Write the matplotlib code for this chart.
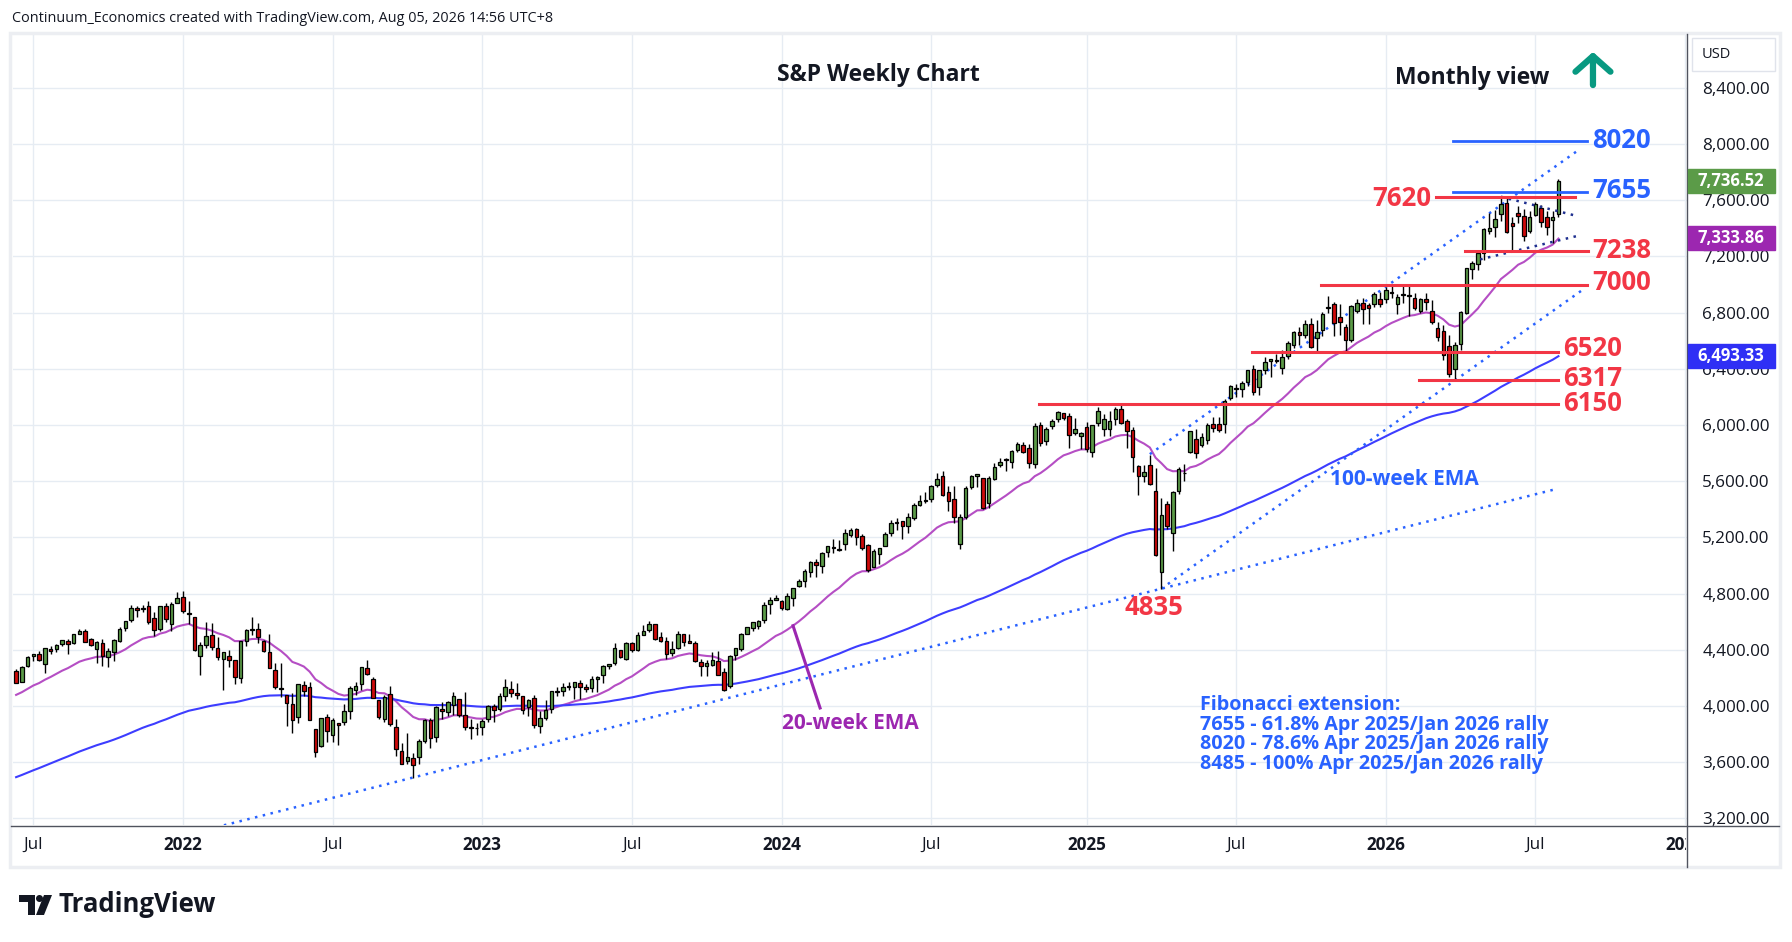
import numpy as np
import pandas as pd
import matplotlib
matplotlib.use('Agg')
import matplotlib.pyplot as plt
from matplotlib.patches import Rectangle, Polygon, Ellipse
from matplotlib.transforms import blended_transform_factory, Bbox, TransformedBbox

plt.rcParams['font.family'] = ['Open Sans', 'DejaVu Sans']

# ================================================== DATA (weekly S&P 500 candles)
first_week = '2021-06-14'

open_px = [
    # 2021
    4248, 4173, 4285, 4356, 4372, 4297, 4409, 4406, 4438, 4462, 4450, 4514, 4536, 4474, 4403,
    4450, 4349, 4385, 4464, 4553, 4610, 4701, 4689, 4712, 4628, 4548, 4710, 4587, 4733,
    # 2022
    4779, 4655, 4632, 4356, 4431, 4505, 4412, 4332, 4354, 4327, 4202, 4462, 4541, 4547, 4462,
    4385, 4255, 4131, 4081, 4013, 3920, 4152, 4134, 3838, 3715, 3920, 3792, 3880, 3884, 3966,
    4113, 4155, 4270, 4195, 4041, 3910, 4084, 3849, 3682, 3610, 3630, 3638, 3753, 3901, 3777,
    3977, 3956, 4005, 4052, 3939, 3854, 3843,
    # 2023
    3853, 3911, 3999, 3979, 4069, 4119, 4096, 4069, 3992, 4055, 3855, 3917, 3982, 4102, 4110,
    4140, 4132, 4167, 4136, 4126, 4190, 4224, 4282, 4308, 4396, 4337, 4450, 4399, 4505, 4543,
    4584, 4492, 4464, 4380, 4412, 4510, 4462, 4445, 4310, 4284, 4289, 4320, 4239, 4140, 4364,
    4406, 4514, 4554, 4569, 4610, 4725, 4758,
    # 2024
    4745, 4690, 4772, 4853, 4892, 4957, 5026, 4998, 5093, 5130, 5111, 5154, 5220, 5257, 5212,
    5149, 4988, 5084, 5142, 5233, 5306, 5316, 5283, 5341, 5432, 5460, 5471, 5572, 5638, 5525,
    5476, 5151, 5345, 5557, 5638, 5624, 5442, 5615, 5712, 5757, 5737, 5825, 5857, 5833, 5725,
    6003, 5883, 5992, 6041, 6083, 6063, 5940, 5920,
    # 2025
    5983, 5805, 6014, 5969, 5969, 6046, 6117, 6026, 5968, 5705, 5635, 5718, 5527, 4953, 5441,
    5232, 5529, 5655, 5807, 5902, 5855, 5896, 6004, 6004, 6004, 6193, 6259, 6255, 6304, 6398,
    6272, 6389, 6453, 6457, 6409, 6489, 6570, 6662, 6640, 6721, 6620, 6674, 6830, 6860, 6770,
    6700, 6608, 6812, 6870, 6851, 6861, 6895,
    # 2026
    6895, 6945, 6860, 6922, 6918, 6906, 6811, 6895, 6814, 6688, 6669, 6565, 6400, 6577, 6800,
    7108, 7146, 7222, 7381, 7407, 7502, 7578, 7436, 7507, 7490, 7383, 7495, 7542, 7483, 7459,
    7500,
]

high_px = [
    # 2021
    4262, 4286, 4356, 4372, 4393, 4415, 4429, 4440, 4469, 4480, 4513, 4545, 4549, 4486, 4465,
    4476, 4412, 4475, 4559, 4608, 4718, 4715, 4718, 4744, 4672, 4713, 4731, 4740, 4808,
    # 2022
    4819, 4749, 4632, 4453, 4596, 4590, 4490, 4362, 4401, 4327, 4465, 4546, 4637, 4593, 4471,
    4513, 4308, 4308, 4081, 4091, 4158, 4178, 4169, 3838, 3913, 3946, 3918, 3880, 4013, 4140,
    4168, 4280, 4325, 4203, 4041, 4077, 4140, 3907, 3736, 3806, 3665, 3762, 3906, 3912, 4001,
    4029, 4034, 4100, 4052, 4101, 3906, 3876,
    # 2023
    3906, 4004, 4016, 4094, 4195, 4176, 4166, 4069, 4048, 4079, 3964, 4040, 4110, 4133, 4163,
    4169, 4170, 4187, 4155, 4212, 4212, 4290, 4299, 4449, 4400, 4458, 4456, 4528, 4578, 4607,
    4584, 4528, 4490, 4460, 4532, 4514, 4511, 4466, 4338, 4324, 4385, 4393, 4267, 4366, 4415,
    4521, 4560, 4595, 4609, 4739, 4779, 4793,
    # 2024
    4755, 4803, 4842, 4903, 4975, 5030, 5049, 5098, 5140, 5190, 5180, 5262, 5264, 5264, 5222,
    5150, 5114, 5128, 5239, 5326, 5341, 5316, 5375, 5447, 5505, 5524, 5570, 5655, 5670, 5566,
    5566, 5364, 5564, 5641, 5651, 5626, 5636, 5733, 5767, 5765, 5822, 5879, 5878, 5863, 6013,
    6018, 5986, 6044, 6099, 6085, 6085, 6050, 5950,
    # 2025
    6022, 5998, 6128, 6081, 6101, 6128, 6147, 6043, 5986, 5715, 5715, 5787, 5691, 5481, 5459,
    5528, 5700, 5720, 5959, 5969, 5944, 6017, 6060, 6059, 6187, 6284, 6290, 6316, 6395, 6428,
    6395, 6481, 6470, 6508, 6532, 6600, 6672, 6699, 6750, 6764, 6744, 6807, 6920, 6875, 6858,
    6720, 6853, 6895, 6901, 6870, 6945, 6945,
    # 2026
    6985, 6986, 6935, 6998, 6998, 6940, 6905, 6940, 6890, 6730, 6712, 6640, 6590, 6815, 7120,
    7165, 7230, 7400, 7507, 7530, 7625, 7614, 7483, 7560, 7540, 7520, 7590, 7565, 7520, 7525,
    7749,
]

low_px = [
    # 2021
    4165, 4173, 4278, 4321, 4321, 4233, 4368, 4385, 4424, 4367, 4441, 4513, 4457, 4427, 4305,
    4288, 4279, 4323, 4459, 4537, 4595, 4630, 4672, 4585, 4495, 4532, 4600, 4531, 4733,
    # 2022
    4662, 4582, 4395, 4223, 4415, 4401, 4327, 4115, 4279, 4157, 4161, 4425, 4506, 4450, 4381,
    4267, 4124, 4062, 3859, 3811, 3876, 4074, 3900, 3637, 3705, 3741, 3742, 3722, 3864, 3910,
    4080, 4114, 4218, 4057, 3907, 3886, 3855, 3647, 3584, 3585, 3491, 3590, 3738, 3699, 3744,
    3907, 3930, 3938, 3919, 3828, 3764, 3796,
    # 2023
    3794, 3886, 3885, 3966, 4037, 4061, 4047, 3943, 3928, 3846, 3808, 3901, 3951, 4069, 4072,
    4114, 4049, 4048, 4099, 4103, 4103, 4166, 4260, 4292, 4341, 4328, 4385, 4389, 4505, 4528,
    4472, 4458, 4335, 4356, 4407, 4430, 4448, 4313, 4217, 4217, 4284, 4223, 4104, 4126, 4330,
    4393, 4511, 4537, 4546, 4594, 4655, 4751,
    # 2024
    4682, 4683, 4715, 4845, 4845, 4918, 4920, 4946, 5058, 5086, 5104, 5112, 5204, 5146, 5107,
    4953, 4987, 5011, 5142, 5211, 5256, 5191, 5234, 5327, 5420, 5447, 5452, 5558, 5497, 5390,
    5306, 5120, 5330, 5546, 5560, 5402, 5406, 5608, 5703, 5675, 5696, 5805, 5802, 5696, 5697,
    5854, 5857, 5972, 6024, 6036, 5833, 5930, 5830,
    # 2025
    5809, 5773, 5996, 5924, 5923, 6003, 6009, 5837, 5666, 5505, 5597, 5572, 5069, 4835, 5263,
    5101, 5507, 5598, 5800, 5767, 5843, 5862, 5952, 5952, 5943, 6179, 6202, 6201, 6280, 6212,
    6212, 6360, 6343, 6441, 6360, 6470, 6551, 6569, 6621, 6550, 6525, 6633, 6800, 6631, 6640,
    6521, 6590, 6800, 6719, 6720, 6840, 6840,
    # 2026
    6870, 6905, 6790, 6866, 6776, 6820, 6795, 6818, 6719, 6600, 6463, 6340, 6317, 6534, 6790,
    7040, 7100, 7175, 7360, 7340, 7450, 7370, 7238, 7440, 7310, 7370, 7490, 7410, 7350, 7298,
    7480,
]

close_px = [
    # 2021
    4166, 4281, 4352, 4370, 4327, 4412, 4395, 4437, 4468, 4442, 4509, 4535, 4458, 4432, 4455,
    4357, 4391, 4471, 4545, 4605, 4697, 4683, 4698, 4595, 4538, 4712, 4621, 4725, 4766,
    # 2022
    4677, 4663, 4398, 4432, 4501, 4419, 4349, 4385, 4329, 4204, 4463, 4543, 4546, 4488, 4393,
    4272, 4132, 4123, 4024, 3901, 4158, 4109, 3901, 3675, 3912, 3825, 3899, 3863, 3962, 4130,
    4145, 4280, 4228, 4058, 3924, 4067, 3873, 3693, 3586, 3640, 3583, 3753, 3901, 3771, 3993,
    3965, 4026, 4072, 3934, 3852, 3845, 3840,
    # 2023
    3895, 3999, 3973, 4071, 4136, 4090, 4079, 3970, 4045, 3862, 3917, 3971, 4109, 4105, 4138,
    4133, 4169, 4136, 4124, 4192, 4205, 4282, 4299, 4410, 4348, 4450, 4399, 4505, 4536, 4582,
    4478, 4464, 4370, 4406, 4516, 4457, 4450, 4320, 4288, 4309, 4327, 4224, 4117, 4358, 4415,
    4514, 4559, 4595, 4604, 4719, 4754, 4770,
    # 2024
    4697, 4784, 4840, 4891, 4959, 5027, 5006, 5089, 5137, 5124, 5117, 5234, 5254, 5204, 5123,
    4967, 5100, 5128, 5223, 5303, 5305, 5278, 5347, 5431, 5460, 5460, 5567, 5615, 5505, 5459,
    5347, 5344, 5554, 5634, 5648, 5408, 5626, 5703, 5738, 5751, 5815, 5865, 5808, 5729, 5996,
    5870, 5969, 6032, 6090, 6051, 5931, 5971, 5942,
    # 2025
    5827, 5997, 6101, 6041, 6026, 6115, 6013, 5955, 5770, 5639, 5668, 5581, 5074, 5363, 5283,
    5525, 5687, 5660, 5958, 5803, 5912, 6000, 5977, 5968, 6173, 6280, 6260, 6297, 6389, 6238,
    6389, 6450, 6467, 6460, 6482, 6584, 6664, 6644, 6716, 6553, 6664, 6792, 6840, 6728, 6734,
    6603, 6849, 6870, 6827, 6834, 6930, 6858,
    # 2026
    6960, 6940, 6910, 6932, 6925, 6831, 6897, 6873, 6733, 6624, 6498, 6360, 6572, 6807, 7115,
    7155, 7222, 7393, 7400, 7466, 7571, 7376, 7419, 7490, 7345, 7478, 7571, 7447, 7407, 7483,
    7736.52,
]

# EMA values at the bar before the first visible candle
ema20_seed = 4070
ema100_seed = 3480

# last values shown in the price-axis tags
tag_values = [7736.52, 7333.86, 6493.33]

# horizontal levels drawn on the chart
red_levels = [7620, 7238, 7000, 6520, 6317, 6150]
blue_levels = [8020, 7655]
swing_low = 4835

fib_lines = [
    'Fibonacci extension:',
    '7655 - 61.8% Apr 2025/Jan 2026 rally',
    '8020 - 78.6% Apr 2025/Jan 2026 rally',
    '8485 - 100% Apr 2025/Jan 2026 rally',
]

# ================================================== PREP
n = len(close_px)
dates = pd.date_range(first_week, periods=n, freq='W-MON')
base = pd.Timestamp('2022-01-03')
xs = np.array([(d - base).days // 7 for d in dates])


def ema(values, seed, length):
    a = 2.0 / (length + 1)
    out = []
    e = seed
    for v in values:
        e = e + a * (v - e)
        out.append(e)
    return np.array(out)


ema20 = ema(close_px, ema20_seed, 20)
ema100 = ema(close_px, ema100_seed, 100)

W, H = 1792, 942
RED = '#f23645'
BLUE = '#2962ff'
PURPLE = '#9c27b0'
UP = '#5b9b48'
DOWN = '#cf0a0a'
INK = '#131722'

fig = plt.figure(figsize=(W / 100, H / 100), dpi=100)
ax = fig.add_axes([13 / W, 1 - 825 / H, (1687 - 13) / W, (825 - 35) / H])
ax.set_xlim(-29.54, 261.34)
ax.set_ylim(3153, 8776)

# ================================================== GRID / TICKS
tick_k, tick_lab = [], []
for i, d in enumerate(dates):
    prev = dates[i - 1] if i > 0 else d - pd.Timedelta(days=7)
    if d.month in (1, 7) and prev.month != d.month:
        tick_k.append(xs[i])
        tick_lab.append('Jul' if d.month == 7 else str(d.year))
tick_k.append((pd.Timestamp('2027-01-04') - base).days // 7)
tick_lab.append('2027')

ax.set_xticks(tick_k)
ax.set_xticklabels([])
ax.tick_params(axis='x', length=0)
ax.yaxis.tick_right()
yt = np.arange(3200, 8401, 400)
ax.set_yticks(yt)
ax.set_yticklabels([f'{v:,.2f}' for v in yt])
ax.tick_params(axis='y', length=0, pad=11, labelsize=12.3, labelcolor=INK)
ax.grid(True, color='#e6ecf3', lw=1)
ax.set_axisbelow(True)
for s in ax.spines.values():
    s.set_visible(False)

blend_x = blended_transform_factory(ax.transData, fig.transFigure)
clip = TransformedBbox(Bbox([[0, 0], [1686 / W, 1]]), fig.transFigure)
for kk, lab in zip(tick_k, tick_lab):
    t = fig.text(kk, 1 - 845 / H, lab, transform=blend_x, ha='center', va='center',
                 fontsize=12.3, color=INK,
                 fontweight='normal' if lab == 'Jul' else 'bold')
    t.set_clip_box(clip)
    t.set_clip_on(True)

# ================================================== CANDLES
o = np.array(open_px, float)
c = np.array(close_px, float)
hi = np.array(high_px, float)
lo = np.array(low_px, float)
up = c >= o
ax.vlines(xs, lo, hi, color='black', lw=1.0, zorder=3)
body = np.maximum(np.abs(c - o), 4)
ax.bar(xs, body, bottom=np.minimum(o, c), width=0.62,
       color=np.where(up, UP, DOWN), edgecolor='black', lw=0.9, zorder=4)

# EMAs
ax.plot(xs, ema20, color='#b54ec4', lw=1.5, zorder=2)
ax.plot(xs, ema100, color='#3d3dff', lw=1.5, zorder=2)

# ================================================== TRENDLINES
dot = (0, (1, 2.2))
i_oct22 = int(np.argmin(lo[:80]))
i_apr25 = int(np.argmin(lo[150:200])) + 150
i_mar26 = int(np.argmin(lo[220:])) + 220
i_oct25 = 28 + 29 + 52 + 52 + 53 + 42  # week of Oct 27 2025

k1, p1 = xs[i_oct22], lo[i_oct22]
k2, p2 = xs[i_apr25], lo[i_apr25]
m = (p2 - p1) / (k2 - k1)
ka = np.array([-32, 238.2])
ax.plot(ka, p1 + m * (ka - k1), color=BLUE, lw=1.8, ls=dot, zorder=2)

k3, p3 = xs[i_mar26], lo[i_mar26]
m2 = (p3 - p2) / (k3 - k2)
kb = np.array([k2, 243.3])
ax.plot(kb, p2 + m2 * (kb - k2), color=BLUE, lw=1.8, ls=dot, zorder=2)
k4, p4 = xs[i_oct25], hi[i_oct25]
kc = np.array([168, 242.5])
ax.plot(kc, p4 + m2 * (kc - k4), color=BLUE, lw=1.8, ls=dot, zorder=2)

ax.plot([229, 242], [7625, 7490], color='#1e2f8f', lw=1.8, ls=dot, zorder=5)
ax.plot([225.4, 242.2], [7179, 7345], color='#1e2f8f', lw=1.8, ls=dot, zorder=5)

# ================================================== LEVELS
red_span = {7620: (217.8, 241.9), 7238: (222.8, 244.1), 7000: (197.8, 244.0),
            6520: (185.8, 239.0), 6317: (214.8, 239.0), 6150: (148.8, 239.0)}
red_text = {7620: (216.9, 7609, 'right'), 7238: (244.9, 7243, 'left'),
            7000: (244.9, 7012, 'left'), 6520: (239.8, 6542, 'left'),
            6317: (239.8, 6333, 'left'), 6150: (239.8, 6153, 'left')}
for lvl in red_levels:
    a, b = red_span[lvl]
    ax.plot([a, b], [lvl, lvl], color=RED, lw=2.2, zorder=5)
    tx, ty, ha = red_text[lvl]
    ax.text(tx, ty, str(lvl), color=RED, fontsize=18.5, fontweight='bold',
            ha=ha, va='center', zorder=6)

blue_text_y = {8020: 8024, 7655: 7666}
for lvl in blue_levels:
    ax.plot([220.7, 244.0], [lvl, lvl], color=BLUE, lw=2.0, zorder=5)
    ax.text(244.8, blue_text_y[lvl], str(lvl), color=BLUE, fontsize=18.5,
            fontweight='bold', ha='left', va='center', zorder=6)

ax.text(168.7, 4698, str(swing_low), color=RED, fontsize=18.5, fontweight='bold',
        ha='center', va='center')

# ================================================== ANNOTATIONS
ax.text(120.8, 8491, 'S&P Weekly Chart', fontsize=16.5, fontweight='bold',
        color=INK, ha='center', va='center')
ax.text(224.0, 8470, 'Monthly view', fontsize=16.5, fontweight='bold',
        color=INK, ha='center', va='center')
ax.annotate('', xy=(245, 8675), xytext=(245, 8400),
            arrowprops=dict(arrowstyle='->,head_length=0.8,head_width=0.9',
                            color='#089981', lw=4.5, mutation_scale=14))

k_ptr = 106
ax.plot([k_ptr, 110.7], [ema20[list(xs).index(k_ptr)], 3986], color=PURPLE, lw=2.2)
ax.text(104.1, 3879, '20-week EMA', color=PURPLE, fontsize=15, fontweight='bold',
        ha='left', va='center')
ax.text(212.3, 5609, '100-week EMA', color=BLUE, fontsize=15, fontweight='bold',
        ha='center', va='center')

for j, line in enumerate(fib_lines):
    ax.text(176.7, 4010 - j * 142, line, color=BLUE, fontsize=14.2,
            fontweight='bold', ha='left', va='center')

# ================================================== FRAME / PRICE AXIS
fig.patches.append(Rectangle((10 / W, 1 - 867 / H), 1770 / W, 834 / H, fill=False,
                             ec='#eceef2', lw=2.5, transform=fig.transFigure))
fig.add_artist(plt.Line2D([1687 / W, 1687 / W], [1 - 34 / H, 1 - 867 / H],
                          color='#50535e', lw=1, transform=fig.transFigure))
fig.add_artist(plt.Line2D([11 / W, 1779 / W], [1 - 826 / H, 1 - 826 / H],
                          color='#50535e', lw=1, transform=fig.transFigure))

fig.patches.append(Rectangle((1692 / W, 1 - 71 / H), 83 / W, 33 / H, fill=True,
                             fc='white', ec='#e0e3eb', lw=1, transform=fig.transFigure))
fig.text(1702 / W, 1 - 54 / H, 'USD', fontsize=10.5, color=INK, va='center')

blend_y = blended_transform_factory(fig.transFigure, ax.transData)
tag_colors = [UP, PURPLE, '#2f2ff5']
box_h = 24 / 0.1405
for val, col in zip(tag_values, tag_colors):
    r = Rectangle((1688 / W, val - box_h / 2), 87 / W, box_h, fc=col, ec=col,
                  transform=blend_y, clip_on=False, zorder=10)
    fig.add_artist(r)
    fig.text(1731 / W, val, f'{val:,.2f}', transform=blend_y, fontsize=12,
             color='white', fontweight='bold', ha='center', va='center', zorder=11)

# ================================================== HEADER / FOOTER
fig.text(12 / W, 1 - 18 / H,
         'Continuum_Economics created with TradingView.com, Aug 05, 2026 14:56 UTC+8',
         fontsize=10.4, color=INK, va='center')


def px(x, y):
    return (x / W, 1 - y / H)


fig.add_artist(Polygon([px(19, 895), px(35, 895), px(35, 915), px(28, 915),
                        px(28, 902), px(19, 902)], closed=True, fc=INK,
                       transform=fig.transFigure))
fig.add_artist(Ellipse(px(39.5, 898.5), 7 / W, 7 / H, fc=INK,
                       transform=fig.transFigure))
fig.add_artist(Polygon([px(44, 895), px(52, 895), px(44, 915), px(36, 915)],
                       closed=True, fc=INK, transform=fig.transFigure))
fig.text(58 / W, 1 - 905 / H, 'TradingView', fontsize=18.5, fontweight='bold',
         color=INK, va='center')

fig.savefig('out.png', dpi=100)
